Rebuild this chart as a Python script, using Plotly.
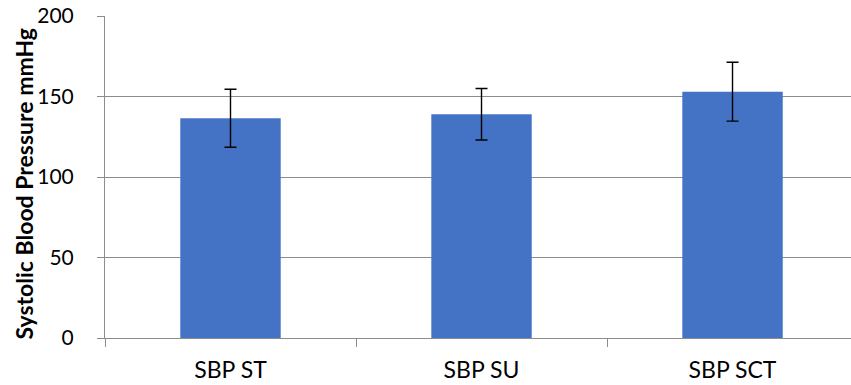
import plotly.graph_objects as go

categories = ["SBP ST", "SBP SU", "SBP SCT"]
means = [136.5, 139.0, 153.0]
errors = [18.0, 16.0, 18.3]
y_ticks = [0, 50, 100, 150, 200]
y_title = "Systolic Blood Pressure mmHg"

grey = "#8c8c8c"
fig = go.Figure(go.Bar(
    x=categories, y=means, width=0.4,
    marker=dict(color="#4472C4", line=dict(width=0)),
    error_y=dict(type="data", array=errors, visible=True, color="#000000", thickness=1.4, width=6),
))
fig.update_layout(
    width=851, height=385,
    margin=dict(l=105, r=0, t=16, b=47),
    paper_bgcolor="white", plot_bgcolor="white",
    font=dict(family="Lato", color="#000000"),
    showlegend=False,
)
fig.update_xaxes(
    range=[-0.5, 2.472], showgrid=False, showline=True, linecolor=grey, linewidth=1,
    ticks="outside", tickson="boundaries", ticklen=8, tickcolor=grey,
    tickfont=dict(size=23, family="Lato"), ticklabelstandoff=11,
)
fig.update_yaxes(
    range=[0, 200], tickvals=y_ticks, showgrid=True, gridcolor=grey, gridwidth=1,
    showline=True, linecolor=grey, linewidth=1, ticks="outside", ticklen=7, tickcolor=grey,
    tickfont=dict(size=21, family="Lato"), ticklabelstandoff=19, zeroline=False,
)
fig.add_annotation(
    text="<b>" + y_title + "</b>", textangle=-90, showarrow=False,
    xref="paper", yref="paper", x=-0.1086, y=0.48, xanchor="center", yanchor="middle",
    font=dict(size=23, family="Lato", color="#000000"),
)
fig.write_html("out.html", config={"displayModeBar": False},
               post_script="document.body.style.margin='0';")
